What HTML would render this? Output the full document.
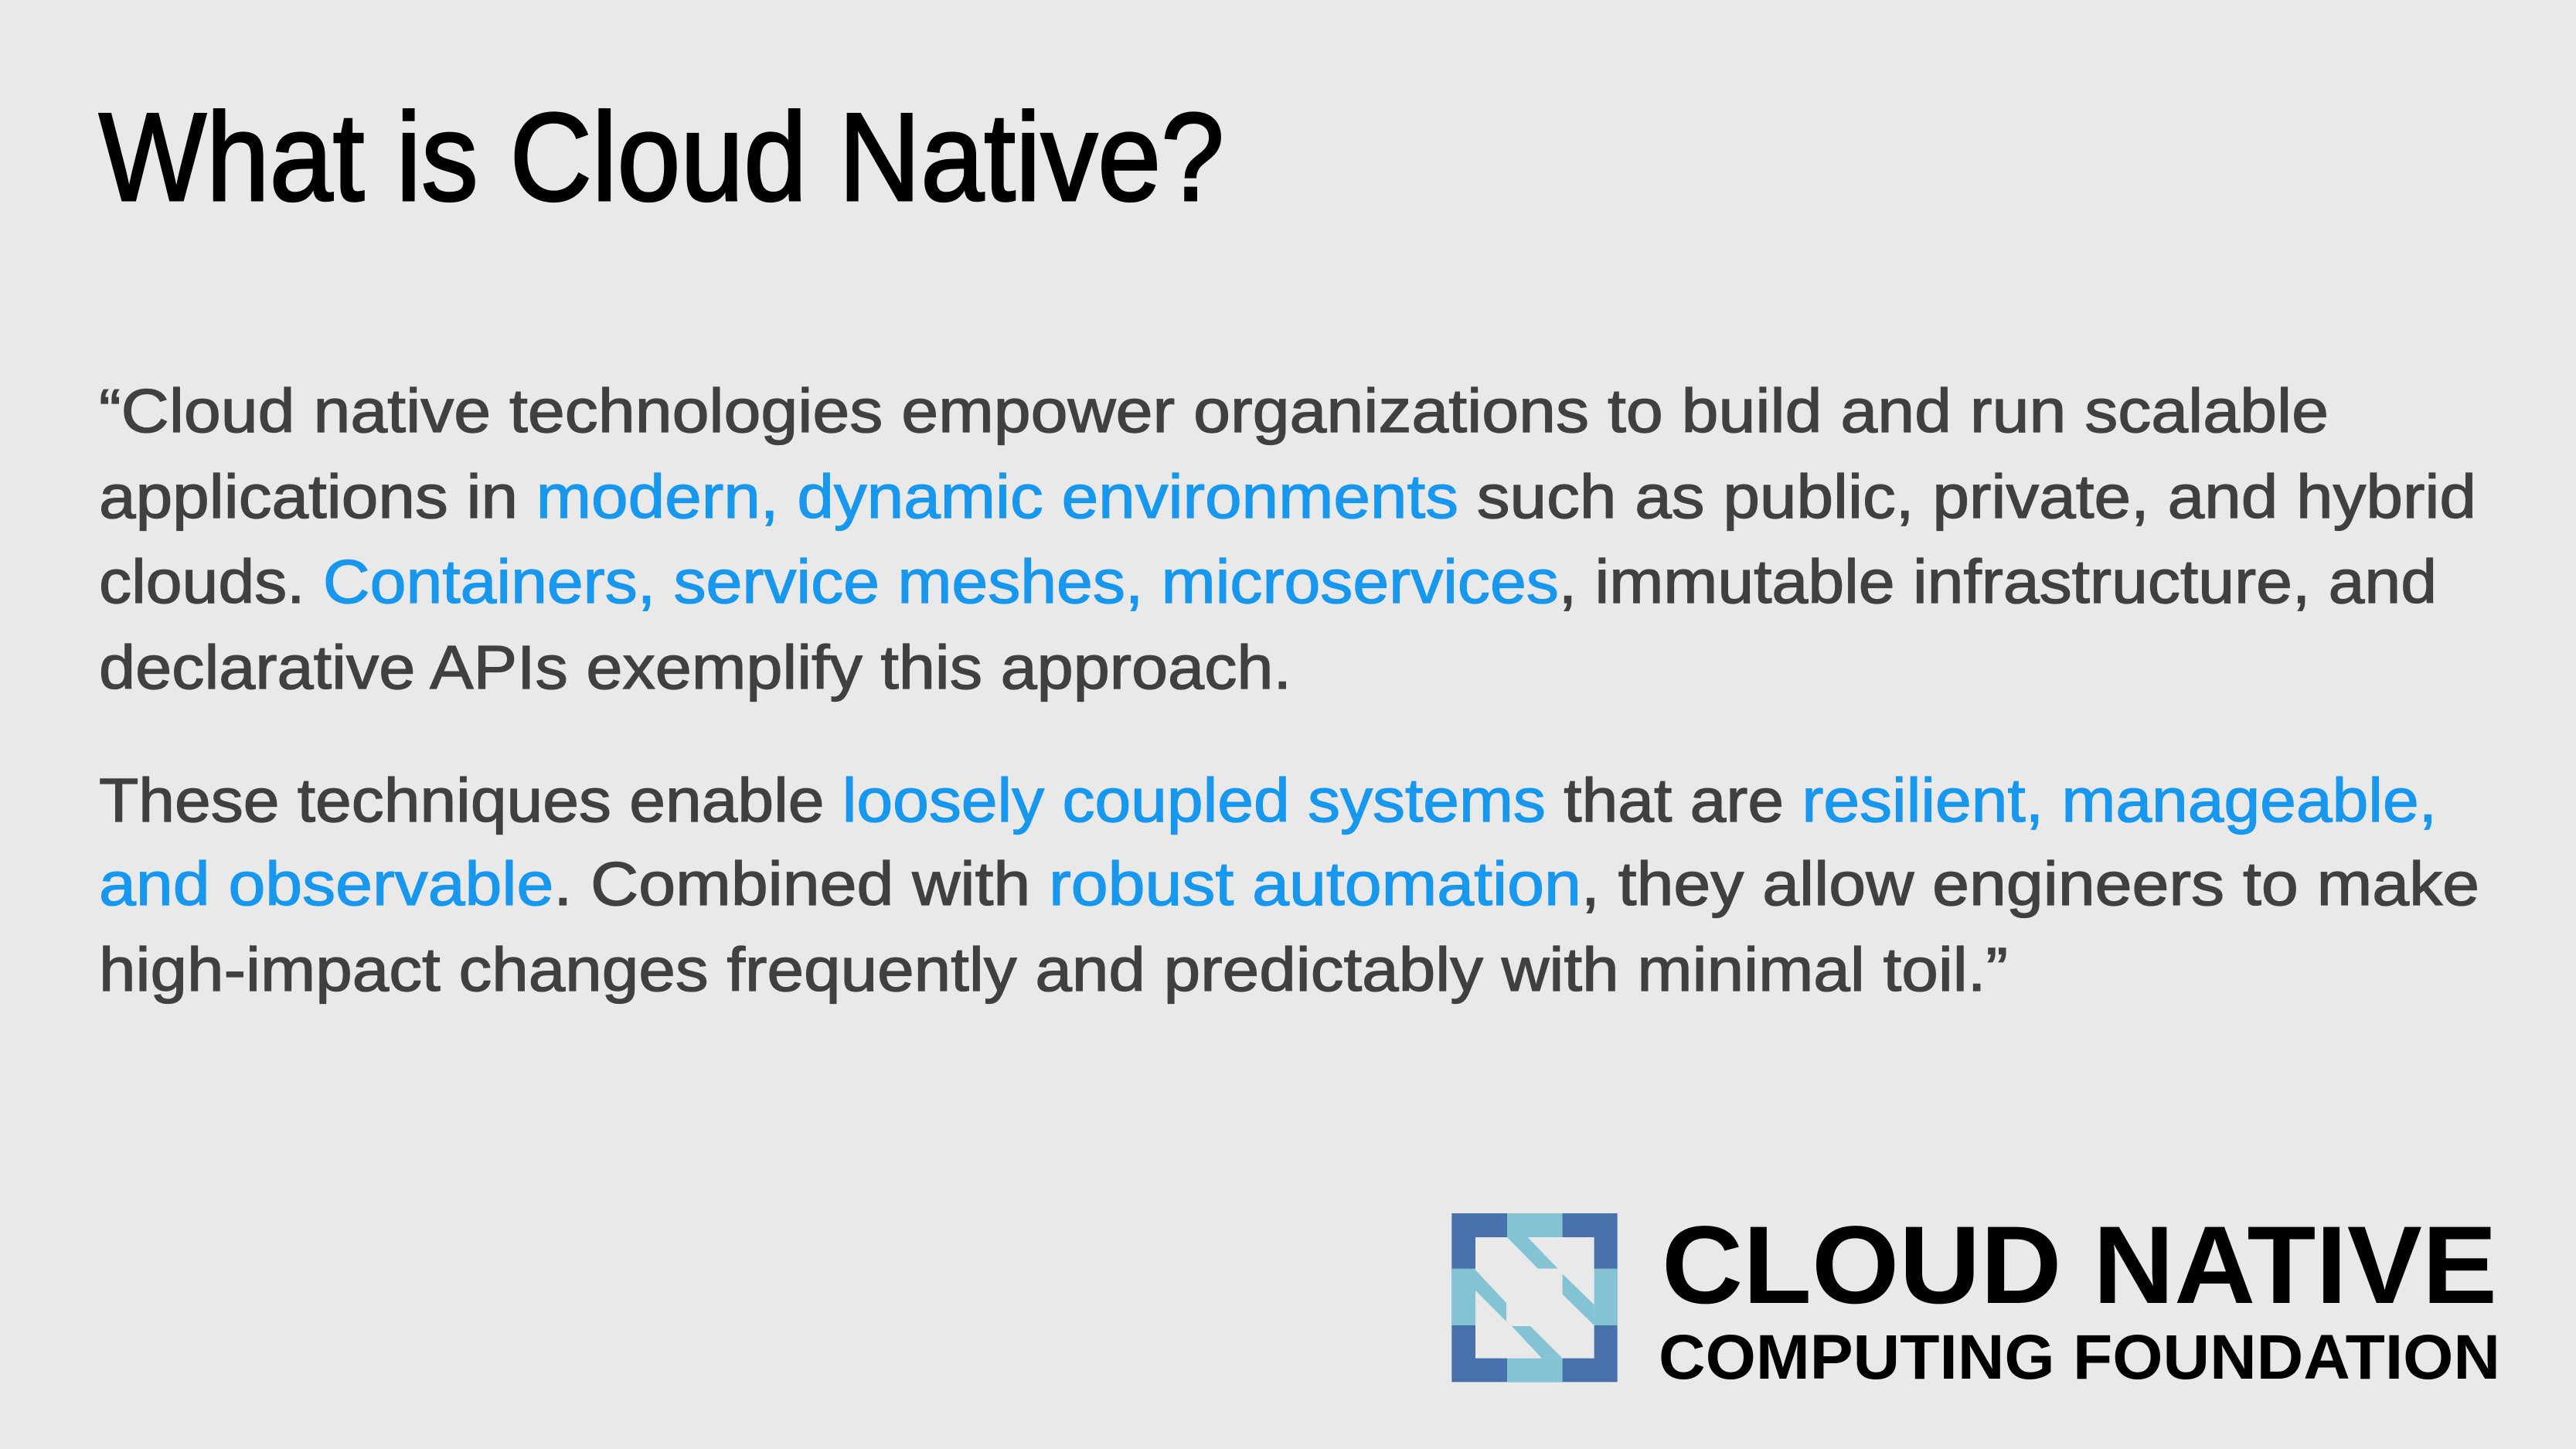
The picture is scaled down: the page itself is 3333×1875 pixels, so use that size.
<!DOCTYPE html>
<html><head><meta charset="utf-8">
<style>
html,body{margin:0;padding:0;background:#e9e9e9;}
svg{display:block;}
</style></head>
<body>
<svg width="3333" height="1875" viewBox="0 0 3333 1875" xmlns="http://www.w3.org/2000/svg">
<rect width="3333" height="1875" fill="#e9e9e9"/>
<text x="128" y="259" font-family="Liberation Sans, sans-serif" font-size="162" fill="#000" stroke="#000" stroke-width="3" textLength="1456" lengthAdjust="spacingAndGlyphs">What is Cloud Native?</text>
<g font-family="Liberation Sans, sans-serif" font-size="80" fill="#404040" stroke="#404040" stroke-width="1.3">
<text x="128" y="559" textLength="2885" lengthAdjust="spacingAndGlyphs">“Cloud native technologies empower organizations to build and run scalable</text>
<text x="128" y="670" textLength="3076" lengthAdjust="spacingAndGlyphs">applications in <tspan fill="#1797ee" stroke="#1797ee">modern, dynamic environments</tspan> such as public, private, and hybrid</text>
<text x="128" y="780" textLength="3025" lengthAdjust="spacingAndGlyphs">clouds. <tspan fill="#1797ee" stroke="#1797ee">Containers, service meshes, microservices</tspan>, immutable infrastructure, and</text>
<text x="128" y="891" textLength="1543" lengthAdjust="spacingAndGlyphs">declarative APIs exemplify this approach.</text>
<text x="128" y="1063" textLength="3025" lengthAdjust="spacingAndGlyphs">These techniques enable <tspan fill="#1797ee" stroke="#1797ee">loosely coupled systems</tspan> that are <tspan fill="#1797ee" stroke="#1797ee">resilient, manageable,</tspan></text>
<text x="128" y="1171" textLength="3080" lengthAdjust="spacingAndGlyphs"><tspan fill="#1797ee" stroke="#1797ee">and observable</tspan>. Combined with <tspan fill="#1797ee" stroke="#1797ee">robust automation</tspan>, they allow engineers to make</text>
<text x="128" y="1282" textLength="2470" lengthAdjust="spacingAndGlyphs">high-impact changes frequently and predictably with minimal toil.”</text>
</g>
<g transform="translate(1870,1560) scale(0.3333)">
<rect x="25" y="30" width="643" height="655" fill="#4870ab"/>
<rect x="240" y="30" width="215" height="655" fill="#84c3d3"/>
<rect x="25" y="245" width="643" height="220" fill="#84c3d3"/>
<rect x="117" y="123" width="461" height="470" fill="#e9e9e9"/>
<polygon points="240,123 320,123 437,245 360,245" fill="#84c3d3"/>
<polygon points="117,250 237,378 237,450 117,330" fill="#84c3d3"/>
<polygon points="455,265 578,385 578,465 455,345" fill="#84c3d3"/>
<polygon points="258,468 330,468 455,593 375,593" fill="#84c3d3"/>
</g>
<text x="2150" y="1686" font-family="Liberation Sans, sans-serif" font-weight="bold" font-size="143" fill="#000" textLength="1081" lengthAdjust="spacingAndGlyphs">CLOUD NATIVE</text>
<text x="2146" y="1784" font-family="Liberation Sans, sans-serif" font-weight="bold" font-size="82" fill="#000" textLength="1089" lengthAdjust="spacingAndGlyphs">COMPUTING FOUNDATION</text>
</svg>
</body></html>
